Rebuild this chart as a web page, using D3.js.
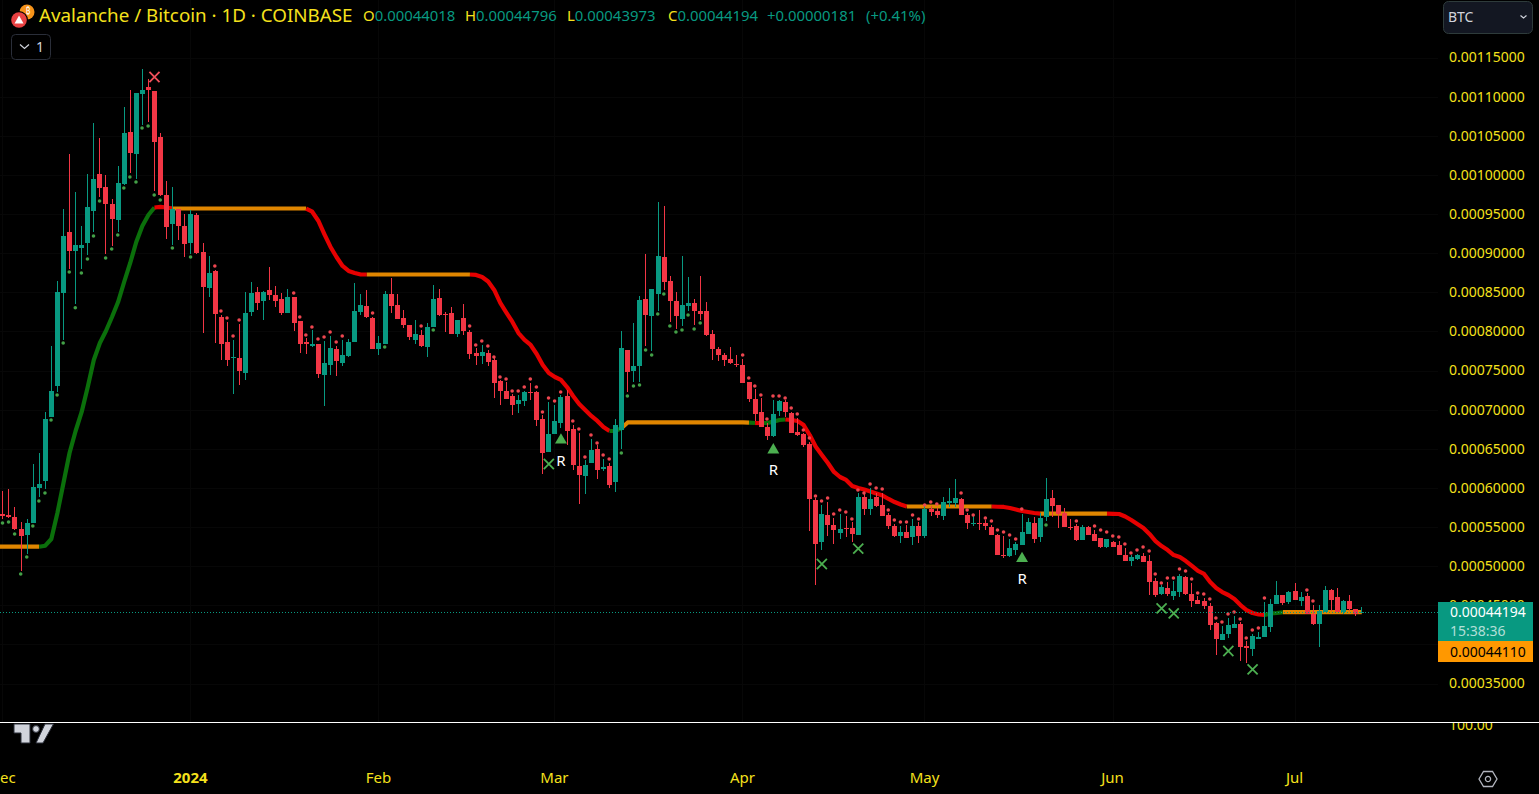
<!DOCTYPE html>
<html>
<head>
<meta charset="utf-8">
<script src="https://cdn.jsdelivr.net/npm/d3@7"></script>
<style>
  html, body { margin: 0; padding: 0; background: #000; overflow: hidden; }
  svg { display: block; font-family: "Noto Sans", sans-serif; }
</style>
</head>
<body>
<div id="chart"></div>
<script>
'use strict';

// all prices are in units of 0.00001 BTC, one candle per day from 1 Dec 2023
var opens = [
  56.66,56.53,56.28,54.74,53.98,55.51,59.98,60.88,69.06,73.02,
  84.91,92.70,90.27,90.66,91.30,95.38,100.11,98.45,96.28,94.23,
  98.84,105.48,102.67,110.34,111.23,110.72,104.84,97.43,93.72,95.64,
  93.47,91.30,94.87,90.14,85.54,87.72,81.84,78.64,76.60,76.60,
  74.68,82.48,85.03,83.88,85.29,84.65,84.14,82.35,84.39,81.33,
  78.64,78.13,78.39,74.43,75.70,77.75,75.96,76.85,78.64,82.48,
  83.24,81.71,77.75,78.39,84.78,83.37,81.71,80.81,78.90,79.54,
  78.00,80.56,84.27,82.22,82.35,79.66,81.71,79.92,77.24,76.85,
  77.24,76.34,73.66,72.38,71.74,70.72,71.10,72.25,72.25,68.80,
  64.59,66.89,68.29,71.74,67.52,62.79,61.51,63.18,64.97,62.41,
  62.79,60.75,67.40,77.62,74.94,75.58,84.14,81.97,84.78,89.51,
  86.44,83.88,81.58,83.24,83.63,82.60,82.60,79.66,77.75,76.98,
  76.47,75.83,75.70,73.53,71.36,69.70,67.78,66.63,69.82,70.98,
  69.57,67.14,66.89,65.61,58.45,53.08,56.53,55.26,54.23,54.87,
  54.87,53.98,58.83,57.30,58.83,57.81,56.53,55.13,53.85,54.36,
  53.72,55.13,53.85,57.30,57.05,56.41,58.06,58.06,58.58,56.53,
  55.38,55.51,55.51,55.00,53.98,51.42,51.29,52.06,52.70,54.11,
  55.51,53.72,56.28,58.70,57.81,56.79,55.00,55.13,53.34,55.00,
  54.11,53.59,52.44,53.08,52.70,51.42,50.65,50.91,51.29,50.65,
  48.10,46.44,47.20,46.18,46.69,48.61,46.44,45.67,45.54,44.90,
  42.73,40.56,41.33,42.09,42.60,39.79,39.41,40.69,40.94,42.22,
  45.16,46.31,45.42,46.82,45.54,46.18,43.88,42.60,44.14,46.95,
  46.05,44.14,45.54,44.52,44.02
];
var highs = [
  59.60,59.86,57.56,55.64,56.02,63.05,64.46,69.70,78.13,86.44,
  95.64,102.67,97.81,93.47,100.11,106.63,104.71,99.99,96.92,101.14,
  108.67,110.85,110.47,113.53,112.25,110.72,105.35,99.22,98.45,95.64,
  95.00,95.51,95.13,91.30,89.63,87.84,82.09,81.20,78.90,80.94,
  85.03,86.31,85.67,85.16,88.23,85.80,84.91,85.42,84.39,81.33,
  79.15,80.18,78.39,78.77,79.41,78.13,78.90,79.02,86.18,84.78,
  85.29,81.84,79.41,85.16,86.82,84.78,82.73,80.81,81.45,80.18,
  81.07,85.93,85.42,82.48,83.12,81.45,83.50,80.18,77.87,78.26,
  77.62,76.60,73.79,73.53,72.00,71.87,72.38,73.40,72.38,69.31,
  70.98,70.59,71.87,72.51,68.03,67.01,63.56,66.25,65.48,63.69,
  63.18,68.80,80.05,77.62,81.07,84.52,89.89,85.42,96.53,96.02,
  87.08,85.03,89.63,86.95,84.14,87.08,83.75,80.18,78.00,77.24,
  78.00,76.98,76.47,73.53,72.64,71.48,68.29,71.23,71.23,71.23,
  69.70,68.93,67.01,65.86,58.70,57.81,58.19,56.15,56.66,56.41,
  55.64,59.35,59.22,59.98,59.35,59.35,56.79,55.38,55.13,55.26,
  56.02,55.64,57.68,57.68,57.43,58.83,59.98,61.13,58.70,56.79,
  56.41,57.17,55.89,55.26,54.11,53.85,53.47,53.08,56.66,56.15,
  56.28,56.79,61.26,59.73,57.81,57.43,56.02,55.38,55.26,55.13,
  54.62,53.59,53.47,53.21,53.21,52.32,51.42,51.55,51.68,51.42,
  48.48,47.59,47.97,48.10,48.99,48.74,47.84,46.18,45.93,45.29,
  42.86,42.35,43.37,43.63,42.86,40.43,41.33,41.58,45.42,45.80,
  48.10,46.31,46.82,47.84,46.69,46.56,45.03,45.03,47.46,47.08,
  47.20,45.67,46.31,44.52,44.80
];
var lows = [
  56.02,56.15,54.62,49.38,51.55,55.51,58.83,59.86,69.06,72.25,
  78.90,87.97,83.50,87.97,89.76,92.70,97.17,89.89,90.91,92.70,
  98.71,100.24,99.47,106.37,106.76,97.94,97.30,91.81,91.04,91.68,
  89.51,89.89,89.89,79.79,84.39,78.51,76.34,75.58,72.00,73.15,
  73.79,81.97,82.73,81.45,84.01,83.12,82.09,82.35,80.05,77.28,
  77.11,78.00,74.04,70.46,74.43,74.30,75.58,76.73,78.64,82.09,
  81.71,77.75,76.98,78.39,82.35,81.58,80.43,78.90,78.39,78.00,
  76.73,80.56,81.97,79.92,79.66,79.28,79.54,76.47,75.70,75.83,
  75.58,71.48,70.59,71.36,69.31,69.57,70.46,71.23,67.91,61.77,
  64.59,66.89,67.66,65.48,62.28,57.94,59.22,63.18,61.14,62.16,
  59.98,59.47,64.97,72.25,73.53,73.53,78.13,77.49,82.60,85.29,
  81.20,80.30,80.69,82.60,80.81,81.45,79.41,76.34,76.21,75.58,
  75.83,75.45,73.40,70.98,68.55,67.78,66.12,66.50,69.19,69.06,
  67.01,66.63,65.23,54.49,47.59,52.06,53.85,52.83,53.47,53.72,
  53.08,53.98,56.53,56.53,57.56,56.41,54.74,53.72,52.95,53.59,
  52.70,52.95,53.59,56.41,56.15,55.89,57.56,57.56,56.53,54.74,
  55.13,54.62,54.62,53.98,51.42,51.04,51.16,51.42,52.70,54.11,
  52.95,53.08,55.77,56.28,54.87,55.00,54.62,53.21,53.34,53.98,
  53.21,52.32,52.32,52.44,51.42,50.65,50.02,50.78,50.53,46.31,
  46.05,46.31,46.18,45.67,46.05,46.31,44.78,45.16,44.52,41.84,
  38.64,40.56,40.81,42.09,37.87,37.62,38.51,40.69,40.94,41.58,
  45.16,45.03,45.16,45.67,44.90,43.88,42.47,39.66,44.14,44.26,
  44.14,43.88,44.26,43.63,43.97
];
var closes = [
  56.41,56.28,54.74,53.85,55.51,60.11,60.49,68.80,72.38,85.03,
  92.19,90.27,91.04,91.04,95.90,99.47,98.32,96.28,94.36,98.96,
  105.35,102.80,110.47,110.85,110.85,104.20,97.43,93.34,95.64,93.47,
  91.17,95.00,90.02,85.67,87.46,82.22,78.39,76.34,76.72,74.94,
  82.35,84.91,83.63,85.03,84.65,83.88,82.35,84.39,81.07,78.39,
  78.39,78.39,74.55,75.96,77.88,76.21,76.98,78.64,82.60,83.37,
  81.84,77.75,78.51,84.78,83.24,81.58,80.81,79.28,79.66,78.13,
  80.56,84.14,82.09,82.09,79.66,81.45,80.05,77.11,76.85,77.37,
  76.09,73.40,72.38,71.36,70.59,71.23,72.25,72.13,68.67,64.46,
  66.89,68.55,71.61,67.27,62.92,61.64,62.92,64.84,62.28,62.67,
  60.37,68.03,77.88,74.81,75.58,84.01,82.09,85.42,89.63,86.31,
  83.88,81.97,83.37,83.63,82.60,82.22,79.54,77.75,76.98,76.34,
  75.96,75.70,73.40,71.36,69.44,67.78,66.63,69.44,71.10,69.70,
  67.01,66.76,65.48,58.58,52.83,56.66,55.26,54.62,54.74,54.74,
  54.11,58.83,57.30,58.58,57.68,56.41,55.13,53.85,54.36,53.59,
  55.13,53.85,57.30,56.92,56.53,58.19,58.32,58.70,56.53,55.51,
  55.51,55.38,55.13,53.98,51.42,51.29,52.32,52.83,54.36,55.64,
  53.47,56.15,58.58,57.68,56.66,55.00,54.87,53.34,55.00,53.98,
  53.21,52.44,53.47,52.44,51.42,50.65,51.16,51.42,50.53,47.97,
  46.31,47.33,46.44,46.82,48.74,46.44,45.54,45.16,44.90,42.47,
  40.69,41.33,42.47,42.60,39.66,39.54,41.07,40.94,42.35,45.16,
  46.31,45.29,46.69,45.67,46.05,43.88,42.60,44.26,46.95,45.67,
  44.14,45.54,44.52,43.88,44.19
];

// trailing line, first entry is the day before the first candle
var lineValues = [
  52.48,
  52.48,52.48,52.48,52.48,52.48,52.48,52.48,52.61,53.47,56.79,
  60.62,64.46,67.27,69.70,72.89,76.34,78.51,80.05,81.84,83.75,
  86.31,88.74,91.42,93.47,94.87,95.83,95.90,95.83,95.70,95.70,
  95.70,95.70,95.70,95.70,95.70,95.70,95.70,95.70,95.70,95.70,
  95.70,95.70,95.70,95.70,95.70,95.70,95.70,95.70,95.70,95.70,
  95.70,95.29,94.14,92.44,90.82,89.51,88.36,87.72,87.46,87.27,
  87.27,87.27,87.27,87.27,87.27,87.27,87.27,87.27,87.27,87.27,
  87.27,87.27,87.27,87.27,87.27,87.27,87.27,87.27,87.21,86.95,
  86.37,85.29,83.63,82.41,81.20,79.79,78.90,78.26,77.11,75.70,
  74.68,74.17,73.79,72.89,71.74,70.72,69.95,69.19,68.55,67.78,
  67.27,67.27,67.65,68.36,68.36,68.36,68.36,68.36,68.36,68.36,
  68.36,68.36,68.36,68.36,68.36,68.36,68.36,68.36,68.36,68.36,
  68.36,68.36,68.36,68.33,68.29,68.29,68.29,68.46,68.67,68.74,
  68.67,68.55,68.03,66.76,65.26,64.21,63.18,62.03,61.39,61.01,
  60.24,59.98,59.79,59.54,59.28,59.03,58.58,58.19,57.87,57.62,
  57.62,57.62,57.62,57.62,57.62,57.62,57.62,57.62,57.62,57.62,
  57.62,57.62,57.62,57.62,57.59,57.56,57.43,57.24,57.05,56.92,
  56.79,56.70,56.70,56.70,56.70,56.70,56.70,56.70,56.70,56.70,
  56.70,56.70,56.70,56.69,56.66,56.34,55.89,55.38,54.87,54.11,
  53.21,52.57,52.06,51.42,51.16,50.65,50.02,49.38,49.00,47.97,
  47.20,46.69,46.31,45.80,45.03,44.39,44.01,43.82,43.75,43.95,
  44.01,44.11,44.11,44.11,44.11,44.11,44.11,44.11,44.11,44.11,
  44.11,44.11,44.11,44.11,44.11
];
// each run of the line: its state and the day index it ends on
var lineRunKinds = ['flat','up','down','flat','down','flat','down','up','flat','up','down','up','down','flat','down','flat','down','up','flat'];
var lineRunEnds  = [6,25,28,50,60,77,100,102,123,124,125,129,149,163,171,182,208,211,224];

var redDotDays = [
  35,36,37,38,39,48,49,50,51,52,53,54,55,56,61,69,77,78,79,80,81,82,83,84,85,86,87,88,89,90,91,92,
  94,95,96,97,98,99,100,122,123,124,125,126,127,128,129,130,131,132,133,134,135,136,137,138,139,140,
  141,142,143,144,145,146,147,148,149,150,151,152,153,154,158,159,160,162,163,164,165,166,167,168,
  177,180,181,182,183,184,185,186,187,188,189,190,191,192,193,194,195,196,197,198,199,200,201,202,
  203,204,205,206,207,208,215,216
];
var redDotPrices = [
  88.36,82.60,81.71,79.41,81.45,84.91,81.84,79.54,80.56,79.03,79.28,79.92,78.64,79.41,82.35,80.69,80.69,78.26,78.77,78.13,76.73,74.17,73.92,72.38,72.38,72.89,73.92,72.89,69.70,71.48,71.10,72.25,
  68.55,67.52,63.95,66.76,65.74,64.21,63.69,76.98,74.04,73.02,71.87,68.80,71.74,71.74,71.48,70.21,69.44,67.40,66.37,58.96,58.32,58.70,56.66,57.17,56.92,56.02,
  59.73,59.35,60.49,59.98,59.86,57.17,55.89,55.64,55.64,56.53,56.02,57.81,58.19,57.94,59.35,57.17,56.53,56.15,55.77,54.62,54.36,53.98,53.47,57.30,
  55.77,55.13,54.62,54.36,53.85,53.72,52.83,51.68,52.06,52.44,51.93,48.99,47.84,48.48,48.48,49.63,49.38,48.35,46.56,46.44,45.80,43.37,42.86,43.88,
  44.14,43.24,40.81,41.84,42.09,45.93,46.95,45.54
];
var greenDotDays = [
  0,1,2,3,4,5,6,7,8,9,10,11,12,13,14,15,16,17,18,19,20,21,22,23,24,25,26,28,31,63,71,
  102,103,104,105,106,107,108,109,110,111,112,113,114,115,172
];
var greenDotPrices = [
  55.51,55.64,54.11,48.99,51.16,55.13,58.32,59.35,68.67,71.87,78.51,87.59,83.01,87.46,89.25,92.19,96.66,89.38,90.53,92.32,98.32,99.73,99.09,105.99,106.25,97.43,96.79,90.66,89.51,78.00,80.18,
  64.46,71.74,73.02,73.15,77.62,76.98,82.22,84.78,80.69,79.92,80.18,82.09,80.30,81.07,55.26
];

var crossDays = [25, 90, 135, 141, 191, 193, 202, 206];
var crossPrices = [112.51, 63.05, 50.27, 52.23, 44.60, 43.97, 39.15, 36.81];
var crossKinds = ['sell', 'buy', 'buy', 'buy', 'buy', 'buy', 'buy', 'buy'];

var triangleDays = [92, 127, 168];
var trianglePrices = [66.10, 64.84, 50.97];

var priceTicks = [35,40,45,50,55,60,65,70,75,80,85,90,95,100,105,110,115];
var monthTicks = [
  new Date(Date.UTC(2023, 11, 1)), new Date(Date.UTC(2024, 0, 1)), new Date(Date.UTC(2024, 1, 1)),
  new Date(Date.UTC(2024, 2, 1)), new Date(Date.UTC(2024, 3, 1)), new Date(Date.UTC(2024, 4, 1)),
  new Date(Date.UTC(2024, 5, 1)), new Date(Date.UTC(2024, 6, 1))
];
var monthLabels = ['Dec', '2024', 'Feb', 'Mar', 'Apr', 'May', 'Jun', 'Jul'];

var legendTitle = 'Avalanche / Bitcoin \u00b7 1D \u00b7 COINBASE';
var legendKeys = ['O', 'H', 'L', 'C'];
var legendValues = ['0.00044018', '0.00044796', '0.00043973', '0.00044194'];
var lastChange = '+0.00000181';
var lastChangePct = '(+0.41%)';
var lastClose = 44.194;
var lastCloseLabel = '0.00044194';
var countdownLabel = '15:38:36';
var trailLabel = '0.00044110';

// ----- chart
var TEAL = '#089981', RED = '#f23645', YELLOW = '#f5e11c';
var lineColors = {flat: '#e08600', up: '#0b700b', down: '#e60000'};

var width = 1539, height = 794, paneBottom = 722;

function dayDate(i) { return new Date(Date.UTC(2023, 11, 1 + i)); }

var x = d3.scaleUtc()
  .domain([dayDate(0), dayDate(224)])
  .range([2.8, 1361.8]);

var y = d3.scaleLinear()
  .domain([35, 115])
  .range([683.5, 57.5]);

var svg = d3.select('#chart').append('svg')
  .attr('width', width)
  .attr('height', height);

svg.append('rect').attr('width', width).attr('height', height).attr('fill', '#000');

var defs = svg.append('defs');
defs.append('clipPath').attr('id', 'lowerPane').append('rect')
  .attr('x', 0).attr('y', paneBottom).attr('width', width).attr('height', height - paneBottom);

// faint grid
var grid = svg.append('g').attr('stroke', '#070707').attr('shape-rendering', 'crispEdges');
grid.selectAll('.hgrid').data(priceTicks).enter().append('line')
  .attr('x1', 0).attr('x2', 1438)
  .attr('y1', function(d) { return Math.round(y(d)) + 0.5; })
  .attr('y2', function(d) { return Math.round(y(d)) + 0.5; });
grid.selectAll('.vgrid').data(monthTicks).enter().append('line')
  .attr('y1', 0).attr('y2', paneBottom)
  .attr('x1', function(d) { return Math.floor(x(d)) + 0.5; })
  .attr('x2', function(d) { return Math.floor(x(d)) + 0.5; });

// trailing line, one path per run so that each takes the colour of its state
var trailLine = d3.line()
  .x(function(d) { return x(dayDate(d.day)); })
  .y(function(d) { return y(d.price); });

var lineRuns = lineRunEnds.map(function(end, r) {
  var start = r === 0 ? -1 : lineRunEnds[r - 1];
  var pts = [];
  for (var day = start; day <= end; day++) {
    pts.push({day: day, price: lineValues[day + 1]});
  }
  return {kind: lineRunKinds[r], pts: pts};
});

svg.append('g').selectAll('path').data(lineRuns).enter().append('path')
  .attr('d', function(d) { return trailLine(d.pts); })
  .attr('fill', 'none')
  .attr('stroke', function(d) { return lineColors[d.kind]; })
  .attr('stroke-width', 4.2)
  .attr('stroke-linejoin', 'round')
  .attr('stroke-linecap', 'butt');

// candles
var candles = closes.map(function(c, i) {
  return {day: i, open: opens[i], high: highs[i], low: lows[i], close: c};
});
function candleColor(d) { return d.close >= d.open ? TEAL : RED; }

var candleG = svg.append('g').attr('shape-rendering', 'crispEdges')
  .selectAll('g').data(candles).enter().append('g');

candleG.append('rect')
  .attr('x', function(d) { return Math.floor(x(dayDate(d.day))); })
  .attr('y', function(d) { return Math.round(y(d.high)); })
  .attr('width', 1)
  .attr('height', function(d) { return Math.max(1, Math.round(y(d.low)) - Math.round(y(d.high))); })
  .attr('fill', candleColor);

candleG.append('rect')
  .attr('x', function(d) { return Math.floor(x(dayDate(d.day))) - 2; })
  .attr('y', function(d) { return Math.round(y(Math.max(d.open, d.close))); })
  .attr('width', 5)
  .attr('height', function(d) {
    return Math.max(1, Math.round(y(Math.min(d.open, d.close))) - Math.round(y(Math.max(d.open, d.close))));
  })
  .attr('fill', candleColor);

// small dots
function drawDots(days, prices, color) {
  svg.append('g').selectAll('circle').data(days).enter().append('circle')
    .attr('cx', function(d) { return x(dayDate(d)) - 0.3; })
    .attr('cy', function(d, i) { return y(prices[i]); })
    .attr('r', 1.8)
    .attr('fill', color);
}
drawDots(redDotDays, redDotPrices, '#ee4650');
drawDots(greenDotDays, greenDotPrices, '#43a047');

// last price line
svg.append('line')
  .attr('x1', 0).attr('x2', 1438)
  .attr('y1', Math.round(y(lastClose)) + 0.5).attr('y2', Math.round(y(lastClose)) + 0.5)
  .attr('stroke', TEAL)
  .attr('stroke-dasharray', '1 2');

// signal markers
svg.append('g').selectAll('path').data(crossDays).enter().append('path')
  .attr('d', d3.symbol().type(d3.symbolX).size(68))
  .attr('transform', function(d, i) { return 'translate(' + x(dayDate(d)) + ',' + y(crossPrices[i]) + ')'; })
  .attr('fill', 'none')
  .attr('stroke-width', 1.8)
  .attr('stroke', function(d, i) { return crossKinds[i] === 'sell' ? '#f0505a' : '#4caf50'; });

var triG = svg.append('g').selectAll('g').data(triangleDays).enter().append('g')
  .attr('transform', function(d, i) { return 'translate(' + x(dayDate(d)) + ',' + y(trianglePrices[i]) + ')'; });
triG.append('path')
  .attr('d', d3.symbol().type(d3.symbolTriangle).size(62))
  .attr('fill', '#4caf50');
triG.append('text')
  .attr('y', 20)
  .attr('dy', '0.36em')
  .attr('text-anchor', 'middle')
  .attr('font-size', 15)
  .attr('fill', '#fff')
  .text('R');

// axes
var yAxis = d3.axisRight(y)
  .tickValues(priceTicks)
  .tickSize(0)
  .tickPadding(0)
  .tickFormat(function(d) { return (d * 1e-5).toFixed(8); });
var yAxisG = svg.append('g').attr('transform', 'translate(1449,0)').call(yAxis);
yAxisG.select('.domain').remove();
yAxisG.selectAll('text').attr('font-size', 14).attr('font-family', '"Noto Sans", sans-serif').attr('fill', YELLOW);

var xAxis = d3.axisBottom(x)
  .tickValues(monthTicks)
  .tickSize(0)
  .tickPadding(0)
  .tickFormat(function(d, i) { return monthLabels[i]; });
var xAxisG = svg.append('g').attr('transform', 'translate(-1,772)').call(xAxis);
xAxisG.select('.domain').remove();
xAxisG.selectAll('text')
  .attr('font-size', 15)
  .attr('font-family', '"Noto Sans", sans-serif')
  .attr('fill', YELLOW)
  .attr('font-weight', function(d, i) { return monthLabels[i] === '2024' ? 700 : 400; });

// lower pane: only the bottom of its scale label shows
svg.append('g').attr('clip-path', 'url(#lowerPane)').append('text')
  .attr('x', 1449).attr('y', 730)
  .attr('font-size', 14)
  .attr('fill', YELLOW)
  .text('100.00');
svg.append('line')
  .attr('x1', 0).attr('x2', width)
  .attr('y1', paneBottom + 0.5).attr('y2', paneBottom + 0.5)
  .attr('stroke', '#fff');

// tradingview mark
var tv = svg.append('g').attr('fill', '#d1d4dc').attr('stroke', '#2a2e39').attr('stroke-width', 1);
tv.append('path').attr('d', 'M14 724H30V743H21V733H14Z');
tv.append('circle').attr('cx', 36).attr('cy', 729).attr('r', 3.4);
tv.append('path').attr('d', 'M45 724H53.5L43 743H36Z');

// settings icon
var gear = svg.append('g').attr('transform', 'translate(1488,779)')
  .attr('fill', 'none').attr('stroke', '#b2b5be').attr('stroke-width', 1.3);
gear.append('path').attr('d', 'M-9 0L-4.5 -7.5H4.5L9 0L4.5 7.5H-4.5Z');
gear.append('circle').attr('r', 2.6);

// price tags
var tags = svg.append('g');
tags.append('rect').attr('x', 1438).attr('y', 602).attr('width', 95).attr('height', 39).attr('fill', TEAL);
tags.append('rect').attr('x', 1438).attr('y', 641).attr('width', 95).attr('height', 21).attr('fill', '#ff9800');
tags.append('text').attr('x', 1450).attr('y', 617).attr('font-size', 14).attr('fill', '#fff').text(lastCloseLabel);
tags.append('text').attr('x', 1450).attr('y', 636).attr('font-size', 14).attr('fill', 'rgba(255,255,255,0.7)').text(countdownLabel);
tags.append('text').attr('x', 1450).attr('y', 657).attr('font-size', 14).attr('fill', '#000').text(trailLabel);

// symbol icons
var icons = svg.append('g');
icons.append('circle').attr('cx', 27).attr('cy', 12).attr('r', 7.5).attr('fill', '#f7931a');
icons.append('text').attr('x', 28).attr('y', 14).attr('font-size', 8).attr('text-anchor', 'middle').attr('fill', '#fff').text('\u20bf');
icons.append('circle').attr('cx', 19).attr('cy', 20).attr('r', 9).attr('fill', '#000');
icons.append('circle').attr('cx', 19).attr('cy', 20).attr('r', 7.8).attr('fill', '#e84142');
icons.append('path').attr('d', 'M19 15.5L23.5 23.5H14.5Z').attr('fill', '#fff');

// legend row
svg.append('text')
  .attr('x', 39).attr('y', 22)
  .attr('font-size', 18.8)
  .attr('fill', YELLOW)
  .text(legendTitle);

var legendX = [363, 465, 567, 668];
var legendRow = svg.append('g').attr('font-size', 14.9);
legendKeys.forEach(function(k, i) {
  var t = legendRow.append('text').attr('x', legendX[i]).attr('y', 21);
  t.append('tspan').attr('fill', YELLOW).text(k);
  t.append('tspan').attr('fill', TEAL).text(legendValues[i]);
});
legendRow.append('text').attr('x', 767).attr('y', 21).attr('fill', TEAL).text(lastChange);
legendRow.append('text').attr('x', 866).attr('y', 21).attr('fill', TEAL).text(lastChangePct);

// collapse button
svg.append('rect')
  .attr('x', 11.5).attr('y', 34.5).attr('width', 39).attr('height', 25).attr('rx', 4)
  .attr('fill', '#000').attr('stroke', '#2a2e39');
svg.append('path').attr('d', 'M20 44.5L24.5 48.5L29 44.5')
  .attr('fill', 'none').attr('stroke', '#d1d4dc').attr('stroke-width', 1.2);
svg.append('text').attr('x', 36).attr('y', 52).attr('font-size', 14).attr('fill', '#d1d4dc').text('1');

// currency dropdown
svg.append('rect')
  .attr('x', 1443.5).attr('y', 1.5).attr('width', 89).attr('height', 32).attr('rx', 5)
  .attr('fill', '#131722').attr('stroke', '#2e3b3b');
svg.append('text').attr('x', 1448).attr('y', 22).attr('font-size', 14).attr('fill', '#d1d4dc').text('BTC');
svg.append('path').attr('d', 'M1520.5 15.5L1523.5 18L1526.5 15.5')
  .attr('fill', 'none').attr('stroke', '#d1d4dc').attr('stroke-width', 1.2);
</script>
</body>
</html>
